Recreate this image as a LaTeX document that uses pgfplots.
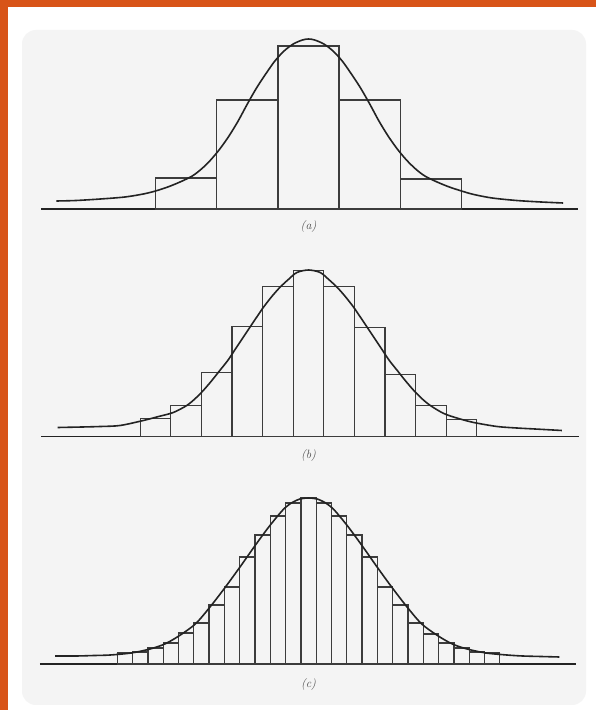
\documentclass[border=0pt]{standalone}
\usepackage{pgfplots}
\pgfplotsset{compat=1.18}
\usepackage{pgfplotstable}

\definecolor{frameorange}{RGB}{216,84,24}
\definecolor{panelgray}{RGB}{244,244,244}
\definecolor{ink}{RGB}{35,35,35}
\definecolor{barink}{RGB}{60,60,60}

% ---------- (a) five classes ----------
\pgfplotstableread{
x h
-2.5 31
-1.5 109
-0.5 163
0.5 109
1.5 30
2.5 30
}\histA
\pgfplotstableread{
x h
-4.12 8
-3.80 8.5
-3.40 10
-3.00 12
-2.70 15
-2.50 18
-2.30 22
-2.10 27
-1.90 33
-1.75 40
-1.60 49
-1.45 60
-1.30 73
-1.15 88
-1.00 105
-0.85 121
-0.70 135
-0.55 148
-0.40 158
-0.25 165
-0.10 169
0.00 170
0.10 169
0.25 165
0.40 158
0.55 148
0.70 135
0.85 121
1.00 105
1.15 88
1.30 73
1.45 60
1.60 49
1.75 40
1.90 33
2.10 27
2.30 22
2.50 18
2.70 14.5
3.00 11
3.40 8.5
3.80 7
4.16 6
}\curveA

% ---------- (b) eleven classes ----------
\pgfplotstableread{
x h
-2.75 18
-2.25 31
-1.75 64
-1.25 110
-0.75 150
-0.25 166
0.25 150
0.75 109
1.25 62
1.75 31
2.25 17
2.75 17
}\histB
\pgfplotstableread{
x h
-4.10 9
-3.70 9.5
-3.40 10
-3.08 11
-2.70 16
-2.45 20
-2.21 24
-1.99 31
-1.85 38
-1.72 46
-1.58 56
-1.45 66
-1.32 76
-1.20 87
-1.07 99
-0.95 110
-0.84 120
-0.74 129
-0.60 140
-0.47 149
-0.33 157
-0.19 164
0.00 166.5
0.19 164
0.33 157
0.47 149
0.60 140
0.74 129
0.84 120
0.95 110
1.07 99
1.20 87
1.32 76
1.45 66
1.58 56
1.72 46
1.85 38
1.99 31
2.21 23
2.45 18
2.70 14
3.08 10
3.40 8.5
3.70 7.5
4.14 6
}\curveB

% ---------- (c) twenty-five classes ----------
\pgfplotstableread{
x h
-3.125 11
-2.875 12
-2.625 16
-2.375 21
-2.125 31
-1.875 41
-1.625 59
-1.375 77
-1.125 107
-0.875 129
-0.625 148
-0.375 161
-0.125 166
0.125 161
0.375 148
0.625 129
0.875 107
1.125 77
1.375 59
1.625 41
1.875 30
2.125 21
2.375 16
2.625 12
2.875 11
3.125 11
}\histC
\pgfplotstableread{
x h
-4.14 8
-3.80 8
-3.50 8.5
-3.24 9
-2.90 11
-2.59 15
-2.35 20
-2.12 28
-1.85 40
-1.61 57
-1.37 76
-1.12 97
-0.89 117
-0.65 137
-0.42 154
-0.28 161
-0.14 165
0.00 166
0.14 165
0.28 161
0.42 154
0.65 137
0.89 117
1.12 97
1.37 76
1.61 57
1.85 40
2.12 28
2.35 20
2.59 15
2.90 11
3.24 9
3.50 8
3.80 7.5
4.10 7
}\curveC

\pgfplotsset{
  panel/.style={
    scale only axis, width=544.68pt, height=180pt,
    xmin=-4.45, xmax=4.45, ymin=0, ymax=180,
    hide axis, clip=false, anchor=south west,
  },
  histbars/.style={ybar interval, draw=barink, line width=1.3pt, fill=none},
  density/.style={ink, line width=1.6pt, smooth, tension=0.5, no marks},
  zeroline/.style={ink, line width=1.4pt, no marks},
}
\tikzset{panelcap/.style={font=\fontsize{12}{14}\selectfont\itshape, text=black!70}}

\begin{document}
\begin{tikzpicture}
  \path[use as bounding box] (0,0) rectangle (596pt,710pt);
  \fill[frameorange] (0,0) rectangle (596pt,710pt);
  \fill[white] (8pt,0) rectangle (596pt,703pt);
  \fill[panelgray, rounded corners=14pt] (22pt,5pt) rectangle (586pt,680pt);

  % (a)
  \begin{axis}[panel, at={(36.2pt,501pt)}]
    \addplot[zeroline] coordinates {(-4.37,0) (4.40,0)};
    \addplot[histbars] table[x=x, y=h] {\histA};
    \addplot[density] table[x=x, y=h] {\curveA};
    \node[panelcap] at (axis cs:0,-18) {(a)};
  \end{axis}

  % (b)
  \begin{axis}[panel, at={(36.2pt,273.5pt)}]
    \addplot[zeroline] coordinates {(-4.37,0) (4.42,0)};
    \addplot[histbars] table[x=x, y=h] {\histB};
    \addplot[density] table[x=x, y=h] {\curveB};
    \node[panelcap] at (axis cs:0,-19) {(b)};
  \end{axis}

  % (c)
  \begin{axis}[panel, at={(36.2pt,46pt)}]
    \addplot[zeroline] coordinates {(-4.39,0) (4.37,0)};
    \addplot[histbars] table[x=x, y=h] {\histC};
    \addplot[density] table[x=x, y=h] {\curveC};
    \node[panelcap] at (axis cs:0,-21) {(c)};
  \end{axis}
\end{tikzpicture}
\end{document}
